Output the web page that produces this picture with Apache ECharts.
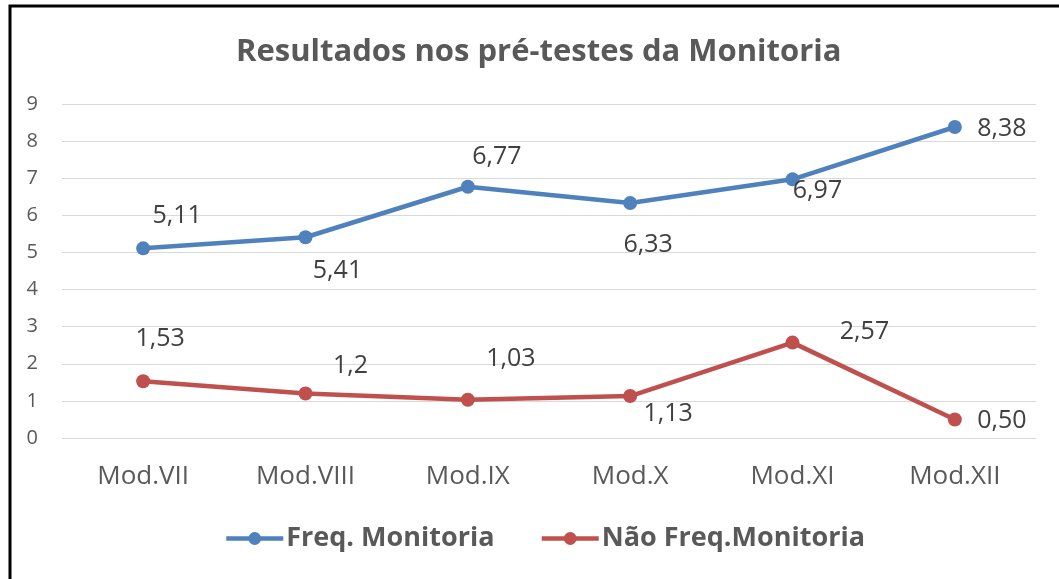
<!DOCTYPE html>
<html><head><meta charset="utf-8">
<script src="https://cdn.jsdelivr.net/npm/echarts@6/dist/echarts.min.js"></script>
<style>html,body{margin:0;padding:0;background:#fff}#c{width:1059px;height:579px}</style>
</head><body><div id="c"></div>
<script>
var categories = ['Mod.VII','Mod.VIII','Mod.IX','Mod.X','Mod.XI','Mod.XII'];
var freqValues = [5.11, 5.41, 6.77, 6.33, 6.97, 8.38];
var naoFreqValues = [1.53, 1.2, 1.03, 1.13, 2.57, 0.50];
var freqLabels = ['5,11','5,41','6,77','6,33','6,97','8,38'];
var naoFreqLabels = ['1,53','1,2','1,03','1,13','2,57','0,50'];
var yTicks = [0,1,2,3,4,5,6,7,8,9];
var freqOffsets = [[34,-32],[32,34],[29,-30],[18,42],[25,12],[47,2]];
var naoOffsets = [[17,-42],[45,-28],[43,-41],[38,18],[72,-11],[47,1]];
var FONT = '"Open Sans"';
function mk(vals, labels, offs){
  return vals.map(function(v,i){
    return {value:v, label:{show:true, position:'inside', offset:offs[i], align:'center', verticalAlign:'middle',
      formatter:labels[i], color:'#404040', fontSize:25, fontFamily:FONT}};
  });
}
var chart = echarts.init(document.getElementById('c'));
chart.setOption({
  backgroundColor:'#fff',
  animation:false,
  title:{text:'Resultados nos pré-testes da Monitoria', left:231, top:32,
    textStyle:{color:'#595959', fontSize:31, fontWeight:'bold', fontFamily:FONT}},
  graphic:[{type:'rect', shape:{x:10,y:6,width:1100,height:700}, style:{fill:'none', stroke:'#000', lineWidth:3}, silent:true}],
  legend:{top:520, left:219, itemWidth:57, itemHeight:16, itemGap:45,
    lineStyle:{width:4.5},
    textStyle:{color:'#595959', fontSize:27, fontWeight:'bold', fontFamily:FONT, padding:[0,0,0,-2]},
    data:['Freq. Monitoria','Não Freq.Monitoria']},
  grid:{left:62, right:23, top:104, bottom:141},
  xAxis:{type:'category', data:categories, boundaryGap:true,
    axisLine:{show:false}, axisTick:{show:false},
    axisLabel:{color:'#595959', fontSize:26, fontFamily:FONT, margin:26}},
  yAxis:{type:'value', min:0, max:9, interval:1,
    axisLine:{show:false}, axisTick:{show:false},
    splitLine:{lineStyle:{color:'#d9d9d9', width:1}},
    axisLabel:{color:'#595959', fontSize:20, fontFamily:FONT, margin:24,
      formatter:function(v){return yTicks.indexOf(v)>=0?String(v):'';}}},
  series:[
    {name:'Freq. Monitoria', type:'line', data:mk(freqValues,freqLabels,freqOffsets),
      symbol:'circle', symbolSize:14, lineStyle:{color:'#4F81BD', width:4.5},
      itemStyle:{color:'#4F81BD'}},
    {name:'Não Freq.Monitoria', type:'line', data:mk(naoFreqValues,naoFreqLabels,naoOffsets),
      symbol:'circle', symbolSize:14, lineStyle:{color:'#C0504D', width:4.5},
      itemStyle:{color:'#C0504D'}}
  ]
});
</script></body></html>
